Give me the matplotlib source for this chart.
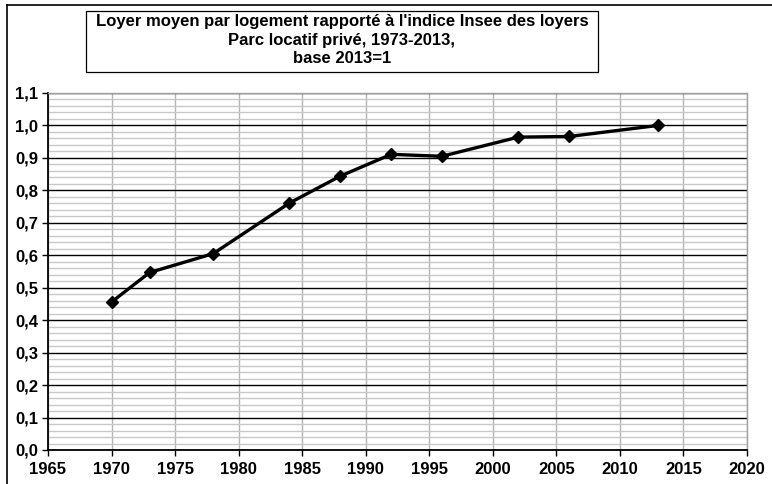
"""Loyer moyen par logement rapporte a l'indice Insee des loyers, 1970-2013."""
import numpy as np, matplotlib; matplotlib.use("Agg")
import matplotlib.pyplot as plt
from matplotlib.patches import Rectangle
from matplotlib.ticker import MultipleLocator, FuncFormatter

plt.rcParams.update({"font.family": ["Liberation Sans", "DejaVu Sans"], "font.weight": "bold",
                     "font.size": 12})

years = [1970, 1973, 1978, 1984, 1988, 1992, 1996, 2002, 2006, 2013]
ratio = [0.456, 0.547, 0.605, 0.761, 0.844, 0.911, 0.905, 0.964, 0.966, 1.0]
title = "Loyer moyen par logement rapporté à l'indice Insee des loyers\nParc locatif privé, 1973-2013,\nbase 2013=1"

fig = plt.figure(figsize=(7.72, 4.84), dpi=100)
ax = fig.add_axes([48/772, 34/484, 699/772, 357/484])

ax.set_xlim(1965, 2020); ax.set_ylim(0, 1.1)
ax.xaxis.set_major_locator(MultipleLocator(5))
ax.yaxis.set_major_locator(MultipleLocator(0.1))
ax.yaxis.set_minor_locator(MultipleLocator(0.02))
ax.yaxis.set_major_formatter(FuncFormatter(lambda v, p: f"{v:.1f}".replace(".", ",")))
ax.grid(axis="y", which="minor", color="#c8c8c8", linewidth=1.0)
ax.grid(axis="y", which="major", color="black", linewidth=1.0)
ax.grid(axis="x", which="major", color="#b4b4b4", linewidth=1.0)
ax.set_axisbelow(True)
ax.tick_params(which="minor", length=0)
ax.tick_params(which="major", length=4, width=1.0, color="black", labelsize=12, pad=3)
ax.tick_params(axis="x", pad=5)
for s in ("top", "right"):
    ax.spines[s].set_color("#a0a0a0"); ax.spines[s].set_linewidth(1.0)
for s in ("left", "bottom"):
    ax.spines[s].set_color("black"); ax.spines[s].set_linewidth(1.3)

ax.plot(years, ratio, "-", color="black", linewidth=2.4, marker="D", markersize=6,
        clip_on=False, zorder=5)

# title box
fig.patches.append(Rectangle((86/772, 1-72/484), 512/772, 61/484, transform=fig.transFigure,
                             fill=False, edgecolor="black", linewidth=0.9))
fig.text(342/772, 1-40/484, title, ha="center", va="center", multialignment="center",
         fontsize=12, fontweight="bold", linespacing=1.3)

# outer frame, cropped at right and bottom
fig.add_artist(plt.Line2D([7/772, 7/772], [0, 1-5/484], transform=fig.transFigure,
                          color="black", linewidth=1.2))
fig.add_artist(plt.Line2D([7/772, 1], [1-5/484, 1-5/484], transform=fig.transFigure,
                          color="black", linewidth=1.2))

fig.savefig("out.png", dpi=100)
